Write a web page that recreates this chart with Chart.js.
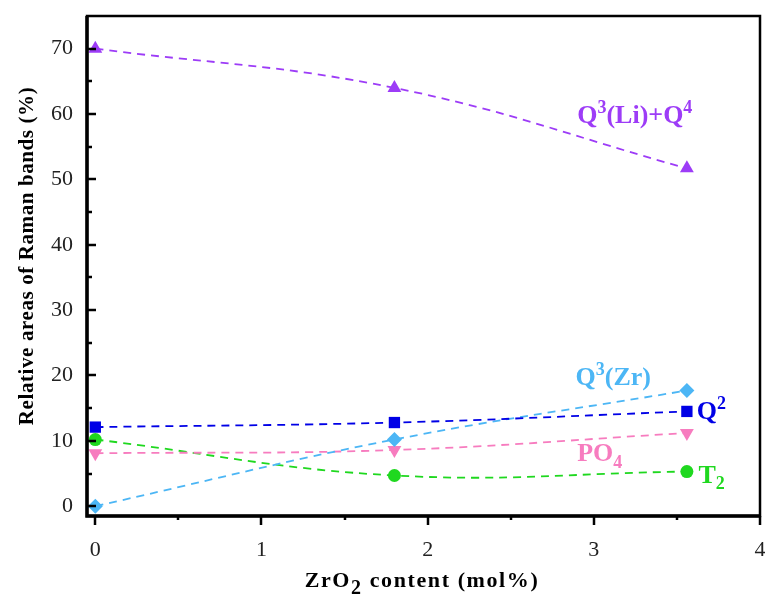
<!DOCTYPE html>
<html>
<head>
<meta charset="utf-8">
<script src="https://cdn.jsdelivr.net/npm/chart.js@4.4.1/dist/chart.umd.min.js"></script>
<style>
  html, body { margin: 0; padding: 0; background: #fff; }
  #wrap { width: 765px; height: 596px; }
</style>
</head>
<body>
<div id="wrap"><canvas id="chart"></canvas></div>
<script>
// ZrO2 content (mol%) of the three glasses
const zrContent = [0, 1.8, 3.56];

// Relative areas of Raman bands (%)
const q3LiQ4 = [70, 64.0, 51.7];
const q2 = [12.1, 12.8, 14.5];
const q3Zr = [0, 10.2, 17.7];
const po4 = [8.1, 8.6, 11.2];
const t2 = [10.2, 4.7, 5.3];

// Axis ticks
const xTicks = [0, 1, 2, 3, 4];
const yTicks = [0, 10, 20, 30, 40, 50, 60, 70];

const SERIF = '"Liberation Serif", "DejaVu Serif", serif';

/**
 * Build one dashed smoothed series
 */
function series(label, values, color, style, extra) {
    return Object.assign({
        label: label,
        data: zrContent.map((x, i) => ({ x: x, y: values[i] })),
        borderColor: color,
        backgroundColor: color,
        borderWidth: 1.8,
        borderDash: [8, 6],
        tension: 0.4,
        pointStyle: style,
        pointRadius: 8,
        pointBorderWidth: 0,
        clip: false
    }, extra || {});
}

/**
 * Labels placed next to the curves, in data units
 * parts: [text, 'sup' | 'sub' | null]
 */
const curveLabels = [
    { x: 2.9, y: 58.7, color: '#9d3cf7', parts: [['Q', null], ['3', 'sup'], ['(Li)+Q', null], ['4', 'sup']] },
    { x: 2.89, y: 18.5, color: '#4cb6f5', parts: [['Q', null], ['3', 'sup'], ['(Zr)', null]] },
    { x: 3.62, y: 13.4, color: '#0000e6', parts: [['Q', null], ['2', 'sup']] },
    { x: 2.9, y: 6.9, color: '#f77cbf', parts: [['PO', null], ['4', 'sub']] },
    { x: 3.63, y: 3.6, color: '#1fd81f', parts: [['T', null], ['2', 'sub']] }
];

/**
 * Draw text with super/subscripts starting at (x, y) baseline
 */
function drawRich(ctx, parts, x, y, size, color, align, opts) {
    opts = opts || {};
    const big = 'bold ' + size + 'px ' + SERIF;
    const small = 'bold ' + Math.round(size * (opts.scriptScale || 0.7)) + 'px ' + SERIF;
    ctx.letterSpacing = (opts.spacing || 0) + 'px';
    let total = 0;
    parts.forEach(p => {
        ctx.font = p[1] ? small : big;
        total += ctx.measureText(p[0]).width;
    });
    let cx = align === 'center' ? x - total / 2 : x;
    ctx.fillStyle = color;
    ctx.textAlign = 'left';
    ctx.textBaseline = 'alphabetic';
    parts.forEach(p => {
        ctx.font = p[1] ? small : big;
        let dy = 0;
        if (p[1] === 'sup') dy = -size * 0.38;
        if (p[1] === 'sub') dy = size * (opts.subDrop || 0.25);
        ctx.fillText(p[0], cx, y + dy);
        cx += ctx.measureText(p[0]).width;
    });
    ctx.letterSpacing = '0px';
}

// Frame, ticks, curve labels and axis titles
const decorPlugin = {
    id: 'decor',
    afterDraw(chart) {
        const ctx = chart.ctx;
        const area = chart.chartArea;
        const xs = chart.scales.x;
        const ys = chart.scales.y;
        ctx.save();
        ctx.strokeStyle = '#000';

        // box
        ctx.lineWidth = 2.5;
        ctx.strokeRect(area.left, area.top, area.right - area.left, area.bottom - area.top);
        ctx.lineWidth = 3.5;
        ctx.beginPath();
        ctx.moveTo(area.left, area.top);
        ctx.lineTo(area.left, area.bottom);
        ctx.lineTo(area.right, area.bottom);
        ctx.stroke();

        // y ticks, inward
        ctx.lineWidth = 2.5;
        for (let v = 0; v <= 70; v += 5) {
            const py = Math.round(ys.getPixelForValue(v));
            const len = v % 10 === 0 ? 9 : 5;
            ctx.beginPath();
            ctx.moveTo(area.left, py);
            ctx.lineTo(area.left + len, py);
            ctx.stroke();
        }
        // x ticks, outward
        for (let v = 0; v <= 4; v += 0.5) {
            const px = Math.round(xs.getPixelForValue(v));
            const len = v % 1 === 0 ? 9 : 4;
            ctx.beginPath();
            ctx.moveTo(px, area.bottom);
            ctx.lineTo(px, area.bottom + len);
            ctx.stroke();
        }

        curveLabels.forEach(l => {
            drawRich(ctx, l.parts, xs.getPixelForValue(l.x), ys.getPixelForValue(l.y), 26, l.color, 'left');
        });

        // x title
        drawRich(ctx, [['ZrO', null], ['2', 'sub'], [' content (mol%)', null]],
            422, 587, 22, '#000', 'center', { spacing: 1.6, scriptScale: 0.9, subDrop: 0.3 });

        // y title
        ctx.translate(26, 256);
        ctx.rotate(-Math.PI / 2);
        drawRich(ctx, [['Relative areas of Raman bands (%)', null]], 0, 7, 21, '#000', 'center', { spacing: 0.6 });
        ctx.restore();
    }
};

const tickFont = { family: SERIF, size: 22 };

new Chart(document.getElementById('chart'), {
    type: 'line',
    data: {
        datasets: [
            series('Q3(Li)+Q4', q3LiQ4, '#9d3cf7', 'triangle'),
            series('Q2', q2, '#0000e6', 'rect'),
            series('Q3(Zr)', q3Zr, '#4cb6f5', 'rectRot', { pointRadius: 7.5 }),
            series('PO4', po4, '#f77cbf', 'triangle', { pointRotation: 180 }),
            series('T2', t2, '#1fd81f', 'circle', { pointRadius: 6.5 })
        ]
    },
    options: {
        responsive: true,
        maintainAspectRatio: false,
        animation: false,
        layout: { autoPadding: false, padding: { top: 16, right: 5, left: 0, bottom: 0 } },
        plugins: {
            legend: { display: false },
            tooltip: { enabled: false }
        },
        scales: {
            x: {
                type: 'linear',
                min: -0.05,
                max: 4,
                grid: { display: false },
                border: { display: false },
                afterFit: function(scale) {
                    scale.height = 80;
                    scale.paddingLeft = 0;
                    scale.paddingRight = 0;
                },
                afterBuildTicks: function(scale) { scale.ticks = xTicks.map(v => ({ value: v })); },
                ticks: { font: tickFont, color: '#222', padding: 13, maxRotation: 0 }
            },
            y: {
                min: -1.5,
                max: 75,
                grid: { display: false },
                border: { display: false },
                afterFit: function(scale) {
                    scale.width = 87;
                    scale.paddingTop = 0;
                    scale.paddingBottom = 0;
                },
                afterBuildTicks: function(scale) { scale.ticks = yTicks.map(v => ({ value: v })); },
                ticks: { font: tickFont, color: '#222', padding: 6 }
            }
        }
    },
    plugins: [decorPlugin]
});
</script>
</body>
</html>
